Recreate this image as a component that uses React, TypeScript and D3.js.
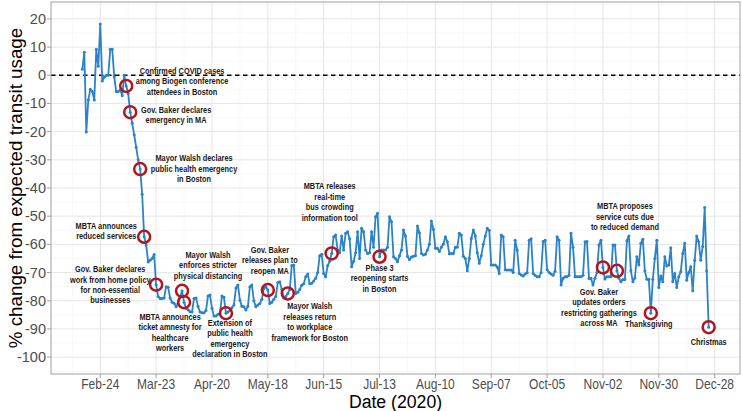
import React from "react";
import * as d3 from "d3";

// daily % change from expected transit usage, 2020-02-15 .. 2020-12-25
const startDate = "2020-02-15";
const feb = [2.1, 8.2, -20.1, -8.8, -5, -5.8, -8.8, 9.2, 3.2, 18.2, -2, -0.7, 0, 0, 9.2];
const mar = [9.2, -0.5, -5.8, -5.8, -5.1, -7.3, -0.1, -3.8, -6.5, -13.1, -17, -21.1, -25.5, -30, -33.3, -42.2,
  -57.3, -60.2, -66.3, -65.6, -65, -63.6, -74.3, -78.5, -79.2, -79.2, -79, -75, -75.2, -79, -80.5];
const apr = [-80.9, -82.1, -81, -78.8, -76.5, -80.5, -82.7, -83.2, -83.9, -84, -79.2, -79, -82, -84, -84.3,
  -84.3, -83.5, -78.3, -78, -82.7, -85.4, -85.4, -84.8, -84.5, -78.3, -78.8, -84.4, -84, -83.5, -82.5];
const may = [-81.5, -75.5, -74.4, -79.8, -82, -82.1, -83.3, -82, -75, -74.4, -80, -82.1, -81.5, -81, -79.5,
  -75.6, -75, -76.2, -81, -80.5, -79.5, -78.5, -73.5, -73.3, -76, -79, -78.5, -77.4, -76, -67.5, -67.3];
const jun = [-77.4, -77, -76, -74.5, -74, -71.5, -70.5, -74, -73.8, -73, -72, -70, -64, -63.5, -70.3,
  -71.5, -67.5, -66, -63.2, -57.3, -56.7, -62, -63, -57, -62, -56.1, -55.5, -58, -67.9, -66];
const jul = [-63, -55.5, -65, -54.3, -55.5, -62, -63.2, -63, -55.5, -61, -50.2, -49, -64.4, -62, -62,
  -62, -61, -50.2, -52, -64.4, -65, -66.2, -64, -62, -54.9, -57, -64.2, -65.4, -64.5, -64.2, -64];
const aug = [-53.5, -55.9, -63.2, -63.8, -63.5, -62, -60, -51.7, -54.6, -61.4, -61.4, -62.5, -61, -60, -57.3,
  -59.1, -63.4, -63.2, -63.2, -61, -61, -56.1, -56.7, -64.2, -65, -69.4, -65, -57.9, -54.9, -57, -63];
const sep = [-66.7, -64, -60, -57, -54.3, -55, -67.3, -67.3, -67.3, -68, -70.3, -56.7, -57.3, -69, -69.1,
  -69.1, -69.1, -70, -58.5, -62, -70.3, -70.9, -71.2, -70.5, -70, -58.5, -58, -70.3, -71, -71.5];
const oct = [-71.5, -70, -59, -58.5, -69, -70, -70.5, -71, -69.5, -57.3, -58.5, -74.4, -72, -71.5, -71.5,
  -71, -56.1, -61, -71.5, -71.5, -71.5, -71.5, -71, -59.1, -59, -72.1, -72, -74.4, -72, -70, -60.2];
const nov = [-58.5, -68.2, -72.3, -71.5, -71.5, -71.5, -60.2, -60.2, -69.4, -72, -73.3, -72.5, -72.5, -58.7, -57,
  -69.4, -73.3, -71.9, -64.4, -67.3, -59.6, -58.2, -69.4, -72.4, -72.4, -84.4, -72.4, -65, -58.5, -75.3];
const dec = [-71.2, -73.3, -64.4, -67.7, -67.3, -61.2, -73.3, -70.3, -75.3, -71.5, -69.7, -63.2, -59.6, -72.7, -70,
  -67.9, -76.5, -65.6, -57, -59.1, -65.6, -60.8, -46.9, -69.4, -89.4];

const xTickDates = ["2020-02-24", "2020-03-23", "2020-04-20", "2020-05-18", "2020-06-15", "2020-07-13",
  "2020-08-10", "2020-09-07", "2020-10-05", "2020-11-02", "2020-11-30", "2020-12-28"];
const yTicks = [-100, -90, -80, -70, -60, -50, -40, -30, -20, -10, 0, 10, 20];

// events circled on the line
const eventDates = ["2020-03-08", "2020-03-10", "2020-03-15", "2020-03-17", "2020-03-23", "2020-04-05",
  "2020-04-06", "2020-04-27", "2020-05-18", "2020-05-28", "2020-06-19", "2020-07-13", "2020-11-02",
  "2020-11-09", "2020-11-26", "2020-12-25"];
const eventLabels = [
  ["Confirmed COVID cases", "among Biogen conference", "attendees in Boston"],
  ["Gov. Baker declares", "emergency in MA"],
  ["Mayor Walsh declares", "public health emergency", "in Boston"],
  ["MBTA announces", "reduced services"],
  ["Gov. Baker declares", "work from home policy", "for non-essential", "businesses"],
  ["Mayor Walsh", "enforces stricter", "physical distancing"],
  ["MBTA announces", "ticket amnesty for", "healthcare", "workers"],
  ["Extension of", "public health", "emergency", "declaration in Boston"],
  ["Gov. Baker", "releases plan to", "reopen MA"],
  ["Mayor Walsh", "releases return", "to workplace", "framework for Boston"],
  ["MBTA releases", "real-time", "bus crowding", "information tool"],
  ["Phase 3", "reopening starts", "in Boston"],
  ["Gov. Baker", "updates orders", "restricting gatherings", "across MA"],
  ["MBTA proposes", "service cuts due", "to reduced demand"],
  ["Thanksgiving"],
  ["Christmas"],
];
// where each label sits, in data units (date, value of first line)
const labelDates = ["2020-04-05", "2020-04-02", "2020-04-11", "2020-02-27", "2020-02-29", "2020-04-18",
  "2020-03-30", "2020-04-29", "2020-05-19", "2020-06-08", "2020-06-18", "2020-07-13", "2020-10-31",
  "2020-11-13", "2020-11-25", "2020-12-25"];
const labelValues = [1.5, -12.3, -29.6, -53.6, -68.9, -63.8, -85.9, -88.0, -62.0, -82.1, -39.5, -68.5,
  -77.0, -46.6, -88.4, -94.7];

const parse = d3.utcParse("%Y-%m-%d");
const start = parse(startDate)!;
const series = [feb, mar, apr, may, jun, jul, aug, sep, oct, nov, dec].flat()
  .map((v, i) => ({ date: d3.utcDay.offset(start, i), value: v }));

const W = 742, H = 411;
const m = { left: 51, right: 740, top: 2, bottom: 374 };
const FONT = "'Liberation Sans', Arial, sans-serif";
const BLUE = "#2b83c6";
const RED = "#b3151e";

const App = () => {
  const first = series[0].date.getTime();
  const last = series[series.length - 1].date.getTime();
  const pad = (last - first) * 0.05;
  const x = d3.scaleUtc().domain([new Date(first - pad), new Date(last + pad)]).range([m.left, m.right]);
  const y = d3.scaleLinear().domain([-106, 26]).range([m.bottom, m.top]);

  const line = d3.line<{ date: Date; value: number }>().x(d => x(d.date)).y(d => y(d.value));
  const byDate = new Map(series.map(d => [d.date.getTime(), d.value]));
  const fmt = d3.utcFormat("%b-%d");

  const xTicks = xTickDates.map(s => parse(s)!);
  const xMinor = [d3.utcDay.offset(xTicks[0], -14), ...xTicks.map(t => d3.utcDay.offset(t, 14))]
    .filter(t => x(t) > m.left && x(t) < m.right);
  const yMinor = [-105, ...yTicks.map(t => t + 5)].filter(t => y(t) > m.top && y(t) < m.bottom);

  return (
    <svg width={W} height={H} style={{ position: "absolute", left: 0, top: 0, background: "#fff" }} fontFamily={FONT}>
      <rect x={m.left} y={m.top} width={m.right - m.left} height={m.bottom - m.top} fill="#fff" />
      {yMinor.map(t => <line key={"ym" + t} x1={m.left} x2={m.right} y1={y(t)} y2={y(t)} stroke="#f3f3f3" strokeWidth={0.6} />)}
      {xMinor.map(t => <line key={"xm" + t.getTime()} x1={x(t)} x2={x(t)} y1={m.top} y2={m.bottom} stroke="#f3f3f3" strokeWidth={0.6} />)}
      {yTicks.map(t => <line key={"yg" + t} x1={m.left} x2={m.right} y1={y(t)} y2={y(t)} stroke="#e6e6e6" strokeWidth={1} />)}
      {xTicks.map(t => <line key={"xg" + t.getTime()} x1={x(t)} x2={x(t)} y1={m.top} y2={m.bottom} stroke="#e6e6e6" strokeWidth={1} />)}

      <line x1={m.left} x2={m.right} y1={y(0)} y2={y(0)} stroke="#000" strokeWidth={1.4} strokeDasharray="4.5,3.5" />

      <path d={line(series) ?? ""} fill="none" stroke={BLUE} strokeWidth={1.8} strokeLinejoin="round" />
      {series.map(d => <circle key={d.date.getTime()} cx={x(d.date)} cy={y(d.value)} r={1.5} fill={BLUE} />)}

      {eventDates.map(s => {
        const dt = parse(s)!;
        return <circle key={"ev" + s} cx={x(dt)} cy={y(byDate.get(dt.getTime()) ?? 0)} r={6} fill="none" stroke={RED} strokeWidth={2.5} />;
      })}

      {eventLabels.map((lines, i) => (
        <g key={"lab" + i} transform={`translate(${x(parse(labelDates[i])!)},${y(labelValues[i])}) scale(0.82,1)`}>
          <text textAnchor="middle" fontSize={9} fontWeight="bold" fill="#1a1a1a">
            {lines.map((l, j) => <tspan key={j} x={0} y={j * 10.4} dominantBaseline="central">{l}</tspan>)}
          </text>
        </g>
      ))}

      <rect x={m.left} y={m.top} width={m.right - m.left} height={m.bottom - m.top} fill="none" stroke="#a0a0a0" strokeWidth={1} />

      {yTicks.map(t => (
        <g key={"yt" + t}>
          <line x1={m.left - 4} x2={m.left} y1={y(t)} y2={y(t)} stroke="#a0a0a0" />
          <text x={m.left - 5} y={y(t)} textAnchor="end" dominantBaseline="central" fontSize={14.5} fill="#4d4d4d">{t}</text>
        </g>
      ))}
      {xTicks.map(t => (
        <g key={"xt" + t.getTime()}>
          <line x1={x(t)} x2={x(t)} y1={m.bottom} y2={m.bottom + 4} stroke="#a0a0a0" />
          <g transform={`translate(${x(t)},${m.bottom + 9.5}) scale(0.86,1)`}>
            <text textAnchor="middle" dominantBaseline="central" fontSize={14}>
              <tspan fill="#4d4d4d">{fmt(t)}</tspan>
            </text>
          </g>
        </g>
      ))}

      <g transform={`translate(${(m.left + m.right) / 2},401) scale(0.93,1)`}>
        <text textAnchor="middle" dominantBaseline="central" fontSize={19}>Date (2020)</text>
      </g>
      <text transform={`translate(15,${(m.top + m.bottom) / 2}) rotate(-90)`} textAnchor="middle" dominantBaseline="central" fontSize={18.8}>
        % change from expected transit usage
      </text>
    </svg>
  );
};

export default App;
